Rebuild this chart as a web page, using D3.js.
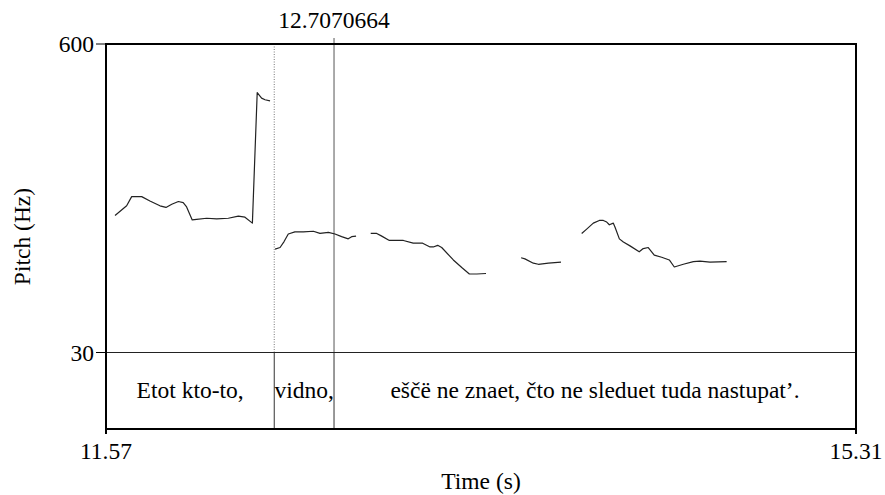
<!DOCTYPE html>
<html>
<head>
<meta charset="utf-8">
<script src="https://cdn.jsdelivr.net/npm/d3@7"></script>
<style>
  html, body { margin: 0; padding: 0; background: #fff; }
  svg { display: block; }
  text { font-family: "Liberation Serif", "Times New Roman", serif; fill: #000; }
</style>
</head>
<body>
<svg id="chart" width="885" height="495"></svg>
<script>
// ---- Data ----
const timeDomain = [11.57, 15.31];
const pitchDomain = [30, 600];
const cursorTime = 12.7070664;
const cursorLabel = "12.7070664";
const xTickLabels = ["11.57", "15.31"];
const yTickLabels = ["30", "600"];

// Pitch track: times (s) and pitch (Hz); null marks unvoiced gaps
const pitchTimes = [
  11.615, 11.673, 11.698, 11.748, 11.789, 11.839, 11.869, 11.898, 11.931, 11.955, 11.972, 12.000,
  12.022, 12.072, 12.122, 12.180, 12.230, 12.263, 12.300, 12.324, 12.346, 12.363, 12.388,
  12.400,
  12.413, 12.438, 12.458, 12.479, 12.512, 12.554, 12.604, 12.637, 12.679, 12.712, 12.745, 12.778, 12.795, 12.817,
  12.850,
  12.890, 12.920, 12.945, 12.983, 13.053, 13.102, 13.149, 13.186, 13.202, 13.224, 13.244, 13.302, 13.344, 13.382, 13.419, 13.465,
  13.550,
  13.640, 13.659, 13.701, 13.726, 13.776, 13.839,
  13.900,
  13.942, 13.967, 14.000, 14.030, 14.050, 14.067, 14.080, 14.100, 14.108, 14.130, 14.150, 14.183, 14.229, 14.249, 14.274,
  14.304, 14.341, 14.379, 14.404, 14.449, 14.499, 14.532, 14.582, 14.665
];
const pitchValues = [
  283, 301, 318, 318, 310, 301, 298, 304, 309, 307, 299, 275,
  276, 278, 277, 278, 282, 280, 269, 510, 500, 497, 495,
  null,
  221, 224, 235, 249, 253, 253, 254, 250, 252, 249, 244, 240, 244, 245,
  null,
  250, 250, 245, 237, 237, 232, 232, 225, 225, 228, 224, 201, 187, 175, 175, 176,
  null,
  205, 203, 195, 193, 195, 197,
  null,
  250, 258, 269, 274, 274, 271, 266, 269, 262, 240, 234, 227, 216, 222, 224,
  210, 206, 201, 188, 193, 198, 199, 197, 198
];

// Text tier intervals
const tierBoundaries = [11.57, 12.409, 12.7070664, 15.31];
const tierLabels = ["Etot kto-to,", "vidno,", "eščë ne znaet, čto ne sleduet tuda nastupat’."];

const axisTitleX = "Time (s)";
const axisTitleY = "Pitch (Hz)";

// ---- Layout ----
const mLeft = 106, mRight = 856, mTop = 44, pitchBottom = 352.5, tierBottom = 429;
const svg = d3.select("#chart");
svg.append("rect").attr("width", 885).attr("height", 495).attr("fill", "#fff");

const x = d3.scaleLinear().domain(timeDomain).range([mLeft, mRight]);
const y = d3.scaleLinear().domain(pitchDomain).range([pitchBottom, mTop]);

const fs = 23.5;

// Boundary (dotted) line in pitch area
svg.append("line")
  .attr("x1", x(tierBoundaries[1])).attr("x2", x(tierBoundaries[1]))
  .attr("y1", mTop).attr("y2", pitchBottom)
  .attr("stroke", "#777").attr("stroke-width", 1).attr("stroke-dasharray", "1,1.5");

// Cursor line
svg.append("line")
  .attr("x1", x(cursorTime)).attr("x2", x(cursorTime))
  .attr("y1", mTop - 6).attr("y2", pitchBottom)
  .attr("stroke", "#555").attr("stroke-width", 1);

// Tier boundaries
tierBoundaries.slice(1, -1).forEach(b => {
  svg.append("line")
    .attr("x1", x(b)).attr("x2", x(b))
    .attr("y1", pitchBottom).attr("y2", tierBottom)
    .attr("stroke", "#333").attr("stroke-width", 1);
});

// Separator
svg.append("line")
  .attr("x1", mLeft).attr("x2", mRight).attr("y1", pitchBottom).attr("y2", pitchBottom)
  .attr("stroke", "#222").attr("stroke-width", 1);

// Pitch curve
const pts = pitchTimes.map((t, i) => ({ t, v: pitchValues[i] }));
const line = d3.line().defined(d => d.v != null).x(d => x(d.t)).y(d => y(d.v));
svg.append("path").datum(pts).attr("d", line)
  .attr("fill", "none").attr("stroke", "#222").attr("stroke-width", 1.2)
  .attr("stroke-linejoin", "round");

// Box
svg.append("rect").attr("x", mLeft).attr("y", mTop)
  .attr("width", mRight - mLeft).attr("height", tierBottom - mTop)
  .attr("fill", "none").attr("stroke", "#000").attr("stroke-width", 2);

// Y ticks & labels
const yTicks = yTickLabels.map(Number);
svg.selectAll(".ytick").data(yTicks).enter().append("line")
  .attr("x1", mLeft - 10).attr("x2", mLeft).attr("y1", d => y(d)).attr("y2", d => y(d))
  .attr("stroke", "#000").attr("stroke-width", 1);
svg.selectAll(".ylab").data(yTicks).enter().append("text")
  .attr("x", mLeft - 12).attr("y", d => y(d)).attr("dy", "0.35em")
  .attr("text-anchor", "end").attr("font-size", fs)
  .text((d, i) => yTickLabels[i]);

// X ticks & labels
const xTicks = xTickLabels.map(Number);
svg.selectAll(".xtick").data(xTicks).enter().append("line")
  .attr("x1", d => x(d)).attr("x2", d => x(d)).attr("y1", tierBottom).attr("y2", tierBottom + 5)
  .attr("stroke", "#000").attr("stroke-width", 2);
svg.selectAll(".xlab").data(xTicks).enter().append("text")
  .attr("x", d => x(d)).attr("y", 459)
  .attr("text-anchor", "middle").attr("font-size", fs)
  .text((d, i) => xTickLabels[i]);

// Cursor label
svg.append("text").attr("x", x(cursorTime)).attr("y", 28)
  .attr("text-anchor", "middle").attr("font-size", fs).text(cursorLabel);

// Tier labels
tierLabels.forEach((lab, i) => {
  const cx = (x(tierBoundaries[i]) + x(tierBoundaries[i + 1])) / 2;
  svg.append("text").attr("x", cx).attr("y", 398)
    .attr("text-anchor", "middle").attr("font-size", fs).text(lab);
});

// Axis titles
svg.append("text").attr("x", (mLeft + mRight) / 2).attr("y", 489)
  .attr("text-anchor", "middle").attr("font-size", fs).text(axisTitleX);
svg.append("text").attr("transform", `translate(30, ${(mTop + tierBottom) / 2}) rotate(-90)`)
  .attr("text-anchor", "middle").attr("font-size", fs).text(axisTitleY);
</script>
</body>
</html>
